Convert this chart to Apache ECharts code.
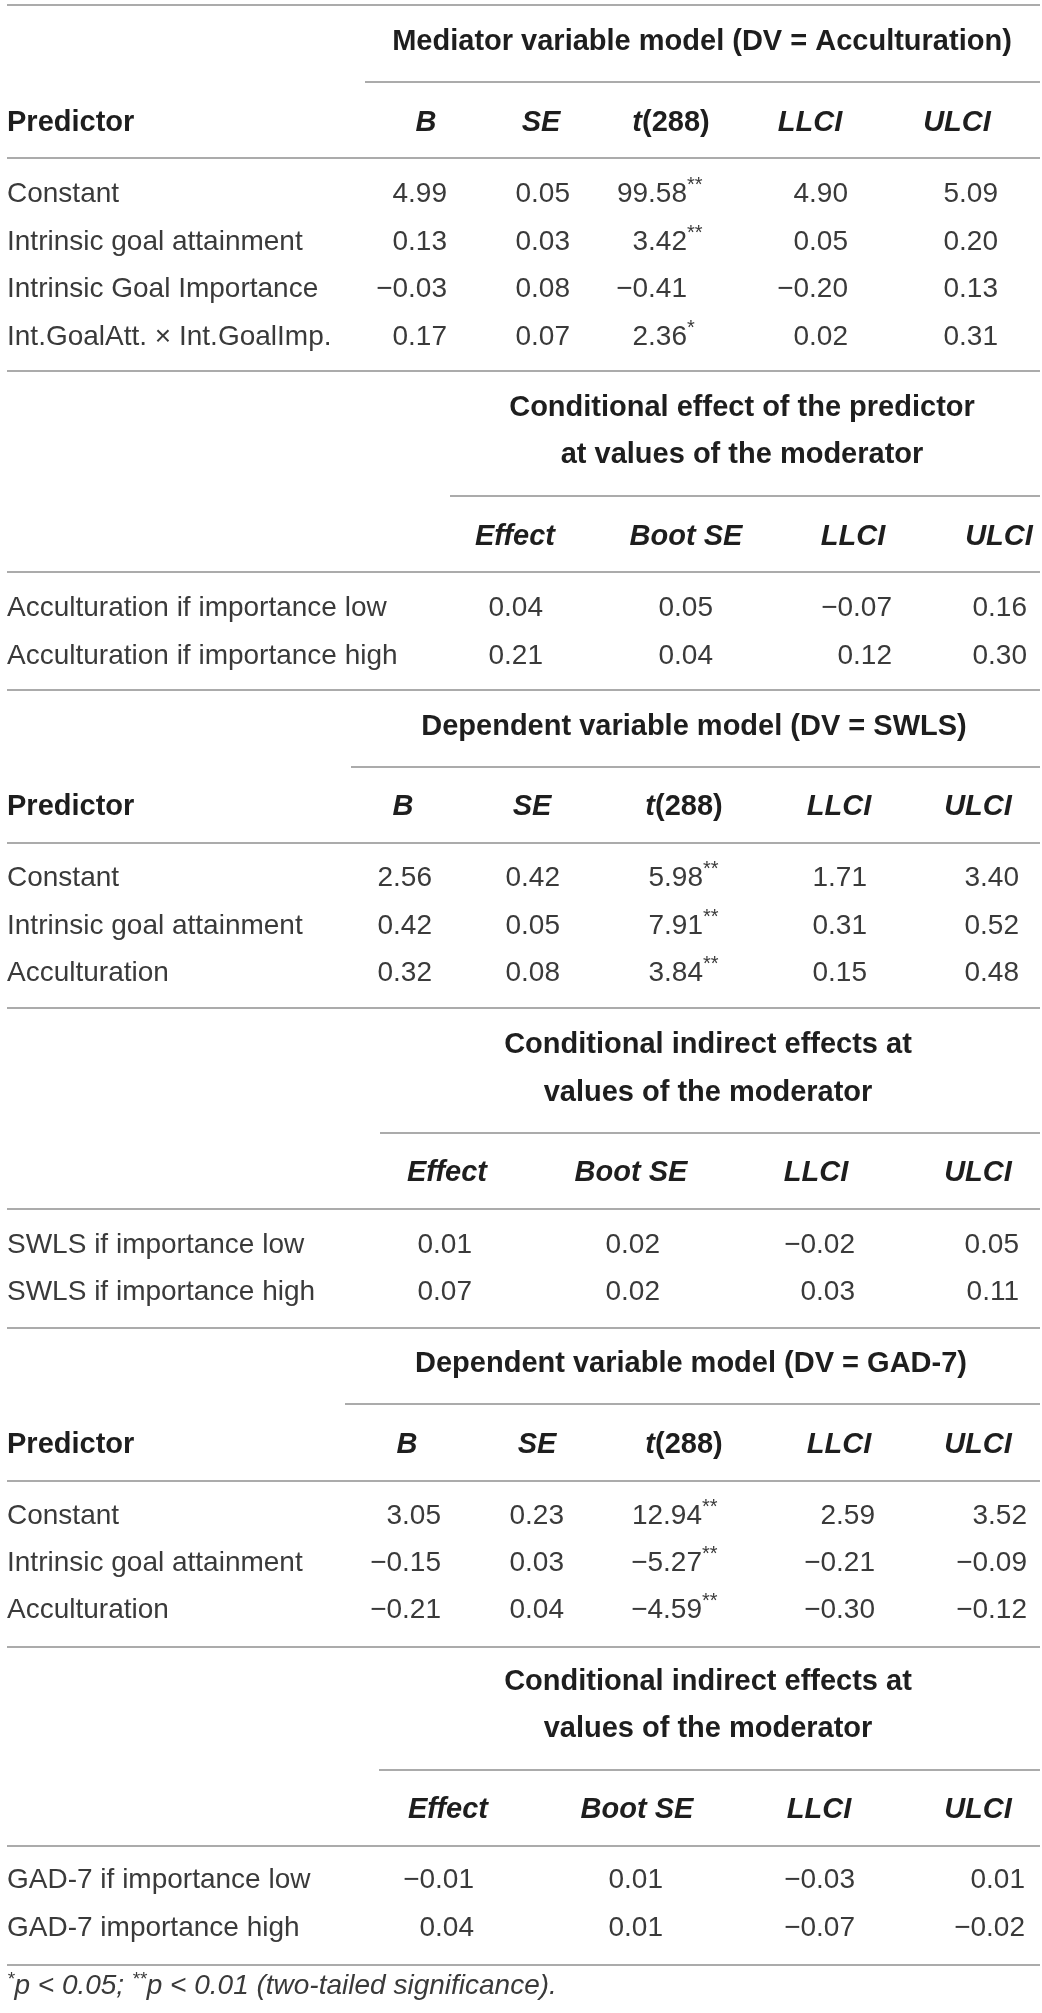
<!DOCTYPE html>
<html>
<head>
<meta charset="utf-8">
<script src="https://cdn.jsdelivr.net/npm/echarts@6/dist/echarts.min.js"></script>
<style>
html,body{margin:0;padding:0;background:#fff;}
#table{width:1042px;height:2013px;}
</style>
</head>
<body>
<div id="table"></div>
<script>
// ---- data ----
var medTitle = ['Mediator variable model (DV = Acculturation)'];
var medHeads = ['B', 'SE', 't(288)', 'LLCI', 'ULCI'];
var medRows = ['Constant', 'Intrinsic goal attainment', 'Intrinsic Goal Importance', 'Int.GoalAtt. \u00d7 Int.GoalImp.'];
var medB = [4.99, 0.13, -0.03, 0.17];
var medSE = [0.05, 0.03, 0.08, 0.07];
var medT = [99.58, 3.42, -0.41, 2.36];
var medSig = ['**', '**', '', '*'];
var medLL = [4.90, 0.05, -0.20, 0.02];
var medUL = [5.09, 0.20, 0.13, 0.31];

var condTitle = ['Conditional effect of the predictor', 'at values of the moderator'];
var condHeads = ['Effect', 'Boot SE', 'LLCI', 'ULCI'];
var condRows = ['Acculturation if importance low', 'Acculturation if importance high'];
var condEff = [0.04, 0.21];
var condSE = [0.05, 0.04];
var condLL = [-0.07, 0.12];
var condUL = [0.16, 0.30];

var swlsTitle = ['Dependent variable model (DV = SWLS)'];
var swlsRows = ['Constant', 'Intrinsic goal attainment', 'Acculturation'];
var swlsB = [2.56, 0.42, 0.32];
var swlsSE = [0.42, 0.05, 0.08];
var swlsT = [5.98, 7.91, 3.84];
var swlsSig = ['**', '**', '**'];
var swlsLL = [1.71, 0.31, 0.15];
var swlsUL = [3.40, 0.52, 0.48];

var indTitle = ['Conditional indirect effects at', 'values of the moderator'];
var indSwlsRows = ['SWLS if importance low', 'SWLS if importance high'];
var indSwlsEff = [0.01, 0.07];
var indSwlsSE = [0.02, 0.02];
var indSwlsLL = [-0.02, 0.03];
var indSwlsUL = [0.05, 0.11];

var gadTitle = ['Dependent variable model (DV = GAD-7)'];
var gadRows = ['Constant', 'Intrinsic goal attainment', 'Acculturation'];
var gadB = [3.05, -0.15, -0.21];
var gadSE = [0.23, 0.03, 0.04];
var gadT = [12.94, -5.27, -4.59];
var gadSig = ['**', '**', '**'];
var gadLL = [2.59, -0.21, -0.30];
var gadUL = [3.52, -0.09, -0.12];

var indGadRows = ['GAD-7 if importance low', 'GAD-7 importance high'];
var indGadEff = [-0.01, 0.04];
var indGadSE = [0.01, 0.01];
var indGadLL = [-0.03, -0.07];
var indGadUL = [0.01, -0.02];

var footnote = '{s|*}{t|p < 0.05; }{s|**}{t|p < 0.01 (two-tailed significance).}';

// ---- layout (pixel space of the page) ----
var W = 1042, H = 2013, LEFT = 7, RIGHT = 1040;
var FONT = '"Liberation Sans", Arial, Helvetica, sans-serif';
var layMed  = {titleX: 702, titleY: [42],         subX0: 365, subY: 82,   headY: 123,  headLineY: 158,  rowY: [194, 242, 289, 337], endY: 371,
               headX: [426, 541, 671, 810, 957], valX: [447, 570, 687, 848, 998]};
var layCond = {titleX: 742, titleY: [408, 455],   subX0: 450, subY: 496,  headY: 537,  headLineY: 572,  rowY: [608, 656],           endY: 690,
               headX: [515, 686, 853, 999],      valX: [543, 713, 892, 1027]};
var laySwls = {titleX: 694, titleY: [727],        subX0: 351, subY: 767,  headY: 807,  headLineY: 843,  rowY: [878, 926, 973],      endY: 1008,
               headX: [403, 532, 684, 839, 978], valX: [432, 560, 703, 867, 1019]};
var layInd1 = {titleX: 708, titleY: [1045, 1093], subX0: 380, subY: 1133, headY: 1173, headLineY: 1209, rowY: [1245, 1292],         endY: 1328,
               headX: [447, 631, 816, 978],      valX: [472, 660, 855, 1019]};
var layGad  = {titleX: 691, titleY: [1364],       subX0: 345, subY: 1404, headY: 1445, headLineY: 1481, rowY: [1516, 1563, 1610],   endY: 1647,
               headX: [407, 537, 684, 839, 978], valX: [441, 564, 702, 875, 1027]};
var layInd2 = {titleX: 708, titleY: [1682, 1729], subX0: 379, subY: 1770, headY: 1810, headLineY: 1846, rowY: [1880, 1928],         endY: 1965,
               headX: [448, 637, 819, 978],      valX: [474, 663, 855, 1025]};

var kinds = {
	label: {align: 'left', fontSize: 28, fill: '#3a3a3a'},
	val:   {align: 'right', fontSize: 28, fill: '#3a3a3a'},
	star:  {align: 'left', fontSize: 20, fill: '#3a3a3a', dy: -9},
	pred:  {align: 'left', fontSize: 29, fill: '#1e1e1e', fontWeight: 'bold'},
	title: {align: 'center', fontSize: 29, fill: '#1e1e1e', fontWeight: 'bold'},
	head:  {align: 'center', fontSize: 29, fill: '#1e1e1e', rich: {
		it: {fontSize: 29, fontWeight: 'bold', fontStyle: 'italic', fontFamily: FONT, fill: '#1e1e1e'},
		bd: {fontSize: 29, fontWeight: 'bold', fontFamily: FONT, fill: '#1e1e1e'}
	}},
	foot:  {align: 'left', fontSize: 28, fill: '#3a3a3a', rich: {
		t: {fontSize: 28, fontStyle: 'italic', fontFamily: FONT, fill: '#3a3a3a', lineHeight: 32},
		s: {fontSize: 19, fontStyle: 'italic', fontFamily: FONT, fill: '#3a3a3a', lineHeight: 19, verticalAlign: 'top'}
	}}
};

// ---- build cells and rules ----
var cells = [], rules = [];
function cell(x, y, text, kind) { cells.push({x: x, y: y, text: text, kind: kind}); }
function rule(x0, x1, y) { rules.push([x0, x1, y]); }
function fmt(v) { return (v < 0 ? '\u2212' : '') + Math.abs(v).toFixed(2); }
function headText(h) {
	if (h === 't(288)') return '{it|t}{bd|(288)}';
	return '{it|' + h + '}';
}

function buildSection(lay, title, heads, rows, cols, sigs) {
	for (var i = 0; i < title.length; i++) cell(lay.titleX, lay.titleY[i], title[i], 'title');
	rule(lay.subX0, RIGHT, lay.subY);
	if (heads.length === 5) cell(LEFT, lay.headY, 'Predictor', 'pred');
	for (var j = 0; j < heads.length; j++) cell(lay.headX[j], lay.headY, headText(heads[j]), 'head');
	rule(LEFT, RIGHT, lay.headLineY);
	for (var r = 0; r < rows.length; r++) {
		cell(LEFT, lay.rowY[r], rows[r], 'label');
		for (var c = 0; c < cols.length; c++) {
			cell(lay.valX[c], lay.rowY[r], fmt(cols[c][r]), 'val');
			//显著性星号, 上标
			if (sigs && c === 2 && sigs[r]) cell(lay.valX[c], lay.rowY[r], sigs[r], 'star');
		}
	}
	rule(LEFT, RIGHT, lay.endY);
}

rule(LEFT, RIGHT, 5);
buildSection(layMed, medTitle, medHeads, medRows, [medB, medSE, medT, medLL, medUL], medSig);
buildSection(layCond, condTitle, condHeads, condRows, [condEff, condSE, condLL, condUL]);
buildSection(laySwls, swlsTitle, medHeads, swlsRows, [swlsB, swlsSE, swlsT, swlsLL, swlsUL], swlsSig);
buildSection(layInd1, indTitle, condHeads, indSwlsRows, [indSwlsEff, indSwlsSE, indSwlsLL, indSwlsUL]);
buildSection(layGad, gadTitle, medHeads, gadRows, [gadB, gadSE, gadT, gadLL, gadUL], gadSig);
buildSection(layInd2, indTitle, condHeads, indGadRows, [indGadEff, indGadSE, indGadLL, indGadUL]);
cell(LEFT, 1986, footnote, 'foot');

// ---- chart ----
var myChart = echarts.init(document.getElementById('table'), null, {renderer: 'canvas'});
var option = {
	backgroundColor: '#ffffff',
	animation: false,
	grid: {left: 0, right: 0, top: 0, bottom: 0},
	xAxis: {type: 'value', min: 0, max: W, show: false},
	yAxis: {type: 'value', min: 0, max: H, inverse: true, show: false},
	series: [
		{
			//表格横线
			type: 'custom',
			silent: true,
			clip: false,
			encode: {x: [0, 1], y: 2},
			data: rules,
			renderItem: function(params, api) {
				var p0 = api.coord([api.value(0), api.value(2)]);
				var p1 = api.coord([api.value(1), api.value(2)]);
				return {
					type: 'line',
					shape: {x1: p0[0], y1: p0[1], x2: p1[0], y2: p1[1]},
					style: {stroke: '#8f8f8f', lineWidth: 1.6}
				};
			}
		},
		{
			//单元格文字
			type: 'custom',
			silent: true,
			clip: false,
			encode: {x: 0, y: 1},
			data: cells.map(function(c) { return [c.x, c.y]; }),
			renderItem: function(params, api) {
				var c = cells[params.dataIndex];
				var k = kinds[c.kind];
				var p = api.coord([api.value(0), api.value(1)]);
				return {
					type: 'text',
					x: p[0],
					y: p[1] + (k.dy || 0),
					style: {
						text: c.text,
						fill: k.fill,
						fontSize: k.fontSize,
						fontFamily: FONT,
						fontWeight: k.fontWeight || 'normal',
						fontStyle: k.fontStyle || 'normal',
						align: k.align,
						verticalAlign: 'middle',
						textAlign: k.align,
						textVerticalAlign: 'middle',
						rich: k.rich
					}
				};
			}
		}
	]
};
myChart.setOption(option);
</script>
</body>
</html>
